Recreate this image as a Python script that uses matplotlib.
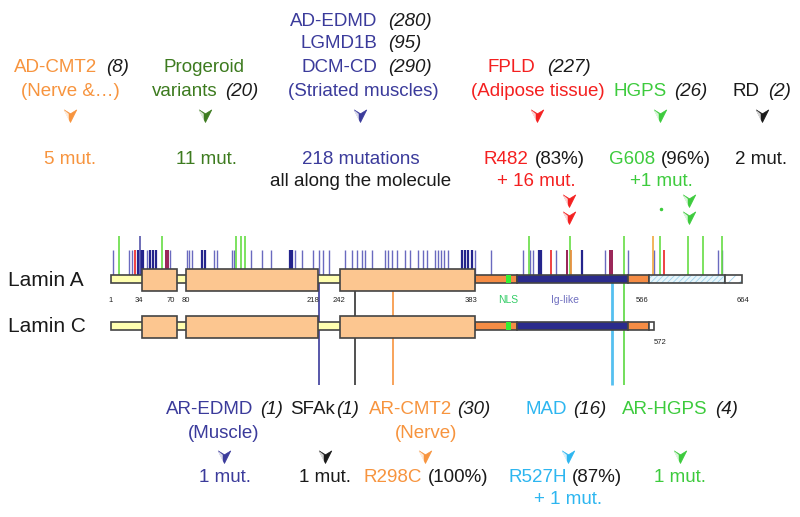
import matplotlib.pyplot as plt
from matplotlib.patches import Rectangle
from matplotlib.path import Path

plt.rcParams['font.family'] = ['Liberation Sans', 'DejaVu Sans']
plt.rcParams['hatch.linewidth'] = 0.6

# protein layout in amino acids
rod_boxes = [(34, 70), (80, 218), (242, 383)]
rod_end = 383
nls = (416, 421)
ig_like = (428, 544)
split_pos = 566
lamin_c_end = 572
lamin_a_hatch = (566, 646)
lamin_a_end = 664
pos_labels = ["1", "34", "70", "80", "218", "242", "383", "566", "664"]
pos_label_aa = [1, 30, 64, 80, 213, 240, 379, 559, 665]

# mutations above lamin A (amino acid positions)
blue_short = [3, 20, 23, 39, 63, 81, 83, 86, 109, 112, 128, 130, 148, 160, 169,
              194, 202, 213, 220, 224, 230, 247, 254, 260, 265, 268, 275, 289,
              292, 296, 302, 310, 315, 324, 329, 333, 341, 345, 348, 351, 355,
              383, 400, 434, 441, 444, 469, 520, 544, 572, 639, 643]
blue_dark = [29, 32, 35, 42, 45, 48, 97, 100, 189, 191, 370, 373, 376, 380,
             451, 453, 496]
blue_tall = [31]
green_tall = [9, 55, 132, 138, 142, 440, 483, 540, 578, 607, 623, 643]
red_short = [26, 463, 582]
maroon_short = [59, 61, 480, 525, 527]
orange_short = [484]
orange_tall = [570]

# recessive mutations drawn down to the lower labels
down_aa = [220, 257, 297, 527, 540]

orange = '#F7943E'
dkgreen = '#3D7B1F'
blue = '#3B3B9B'
red = '#F42020'
green = '#3DCB3D'
cyan = '#2DB6F0'
black = '#1A1A1A'
down_colors = [blue, '#333333', orange, '#55C0F0', '#5AD840']

fig = plt.figure(figsize=(8, 5.17), dpi=100)
ax = fig.add_axes([0, 0, 1, 1])
ax.set_xlim((0 - 111) / 0.9517 + 1, (800 - 111) / 0.9517 + 1)
ax.set_ylim(517, 0)
ax.axis('off')
tx = fig.add_axes([0, 0, 1, 1], facecolor='none')
tx.set_xlim(0, 800)
tx.set_ylim(517, 0)
tx.axis('off')


def bar(x0, x1, y0, y1, fc, z=3, hatch=None):
    if hatch:
        ax.add_patch(Rectangle((x0, y0), x1 - x0, y1 - y0, fc=fc, ec='#9FD3EC',
                               lw=0, hatch=hatch, zorder=z))
        fc = 'none'
    ax.add_patch(Rectangle((x0, y0), x1 - x0, y1 - y0, fc=fc, ec='#444444',
                           lw=1.2, zorder=z))


def protein(yc, is_a):
    bar(1, rod_end, yc - 4, yc + 4, '#FFFFB0')
    for a, b in rod_boxes:
        bar(a, b, yc - 10.5, yc + 12, '#FCC690', z=4)
    bar(rod_end, ig_like[0], yc - 4, yc + 4, '#F58C45')
    ax.add_patch(Rectangle((nls[0], yc - 4), nls[1] - nls[0], 8, fc='#33EE33',
                           lw=0, zorder=5))
    bar(ig_like[0], ig_like[1], yc - 4, yc + 4, '#2B2B8C')
    bar(ig_like[1], split_pos, yc - 4, yc + 4, '#F58C45')
    if is_a:
        bar(lamin_a_hatch[0], lamin_a_hatch[1], yc - 4, yc + 4, '#E8F6FB', hatch='//////')
        bar(lamin_a_hatch[1], lamin_a_end, yc - 4, yc + 4, 'white', hatch='///')
    else:
        bar(split_pos, lamin_c_end, yc - 4, yc + 4, 'white')


protein(279, True)
protein(326, False)

# mutation ticks, drawn behind the bars
ax.vlines(blue_short, 250, 279, color='#6A6ABF', lw=1.0, zorder=1)
ax.vlines(blue_dark, 250, 279, color='#24248C', lw=1.6, zorder=1)
ax.vlines(blue_tall, 236, 279, color='#5555AA', lw=1.2, zorder=1)
ax.vlines(green_tall, 236, 279, color='#66DD44', lw=1.2, zorder=1)
ax.vlines(red_short, 250, 279, color='#EE3333', lw=1.3, zorder=1)
ax.vlines(maroon_short, 250, 279, color='#992255', lw=1.4, zorder=1)
ax.vlines(orange_short, 250, 279, color='#E89040', lw=1.3, zorder=1)
ax.vlines(orange_tall, 236, 279, color='#F0A840', lw=1.2, zorder=1)
for p, c in zip(down_aa, down_colors):
    ax.vlines(p, 279, 385, color=c, lw=2.0 if c == '#55C0F0' else 1.2, zorder=1)

for lab, p in zip(pos_labels, pos_label_aa):
    ax.text(p, 300, lab, fontsize=5.5, ha='center', va='center', color='#222222', zorder=6)
ax.text(418, 300, "NLS", fontsize=7.5, ha='center', va='center', color='#33CC66')
ax.text(478, 300, "Ig-like", fontsize=7.5, ha='center', va='center', color='#7070C0')
ax.text(578, 343, "572", fontsize=5.5, ha='center', va='center', color='#222222')

tx.text(8, 280, "Lamin A", fontsize=15, va='center', color=black)
tx.text(8, 326, "Lamin C", fontsize=15, va='center', color=black)

# arrowhead marker pointing down, left wing hollow
arrow = Path([(0, -1), (-0.9, 0.8), (0, 0.25), (0.9, 0.8), (0, -1)],
             [Path.MOVETO, Path.LINETO, Path.LINETO, Path.LINETO, Path.CLOSEPOLY])
hollow = Path([(-0.15, -0.45), (-0.6, 0.5), (-0.15, 0.15), (-0.15, -0.45)],
              [Path.MOVETO, Path.LINETO, Path.LINETO, Path.CLOSEPOLY])


def head(x, y, c, axis=tx):
    axis.plot(x, y, marker=arrow, ms=10, color=c, mec=c, mew=0.5, zorder=6)
    axis.plot(x, y, marker=hollow, ms=10, color='white', mew=0, alpha=0.8, zorder=7)


fs = 13.5


def pair(xr, xl, y, name, count, c, italic=True):
    tx.text(xr, y, name, fontsize=fs, ha='right', va='center', color=c)
    tx.text(xl, y, count, fontsize=fs, ha='left', va='center', color=black,
            style='italic' if italic else 'normal')


def center(x, y, s, c):
    tx.text(x, y, s, fontsize=fs, ha='center', va='center', color=c)


# dominant disorders (top)
pair(377, 388, 22, "AD-EDMD", "(280)", blue)
pair(377, 388, 44, "LGMD1B", "(95)", blue)
pair(377, 388, 68, "DCM-CD", "(290)", blue)
center(363, 91, "(Striated muscles)", blue)
head(360, 115, blue)
center(361, 159, "218 mutations", blue)
center(361, 182, "all along the molecule", black)

pair(97, 106, 68, "AD-CMT2", "(8)", orange)
center(70, 91, "(Nerve &\u2026)", orange)
head(70, 115, orange)
center(70, 159, "5 mut.", orange)

center(204, 68, "Progeroid", dkgreen)
pair(218, 225, 91, "variants", "(20)", dkgreen)
head(205, 115, dkgreen)
center(206, 159, "11 mut.", dkgreen)

pair(535, 547, 68, "FPLD", "(227)", red)
center(538, 91, "(Adipose tissue)", red)
head(537, 115, red)
pair(528, 535, 159, "R482", "(83%)", red, italic=False)
center(536, 182, "+ 16 mut.", red)
head(482, 200, red, ax)
head(482, 217, red, ax)

pair(667, 674, 91, "HGPS", "(26)", green)
head(660, 115, green)
pair(655, 661, 159, "G608", "(96%)", green, italic=False)
center(661, 182, "+1 mut.", green)
head(608, 200, green, ax)
head(608, 217, green, ax)
tx.plot(661, 209, 'o', ms=1.5, color=green)

pair(760, 768, 91, "RD", "(2)", black)
head(762, 115, black)
center(761, 159, "2 mut.", black)

# recessive disorders (bottom)
pair(253, 260, 410, "AR-EDMD", "(1)", blue)
center(224, 433, "(Muscle)", blue)
head(224, 456, blue)
center(225, 477, "1 mut.", blue)

pair(335, 336, 410, "SFAk", "(1)", black)
head(325, 456, black)
center(325, 477, "1 mut.", black)

pair(452, 457, 410, "AR-CMT2", "(30)", orange)
center(426, 433, "(Nerve)", orange)
head(425, 456, orange)
pair(422, 428, 477, "R298C", "(100%)", orange, italic=False)

pair(567, 573, 410, "MAD", "(16)", cyan)
head(568, 456, cyan)
pair(567, 572, 477, "R527H", "(87%)", cyan, italic=False)
center(568, 500, "+ 1 mut.", cyan)

pair(708, 715, 410, "AR-HGPS", "(4)", green)
head(680, 456, green)
center(680, 477, "1 mut.", green)

fig.savefig("out.png", dpi=100, facecolor='white')
